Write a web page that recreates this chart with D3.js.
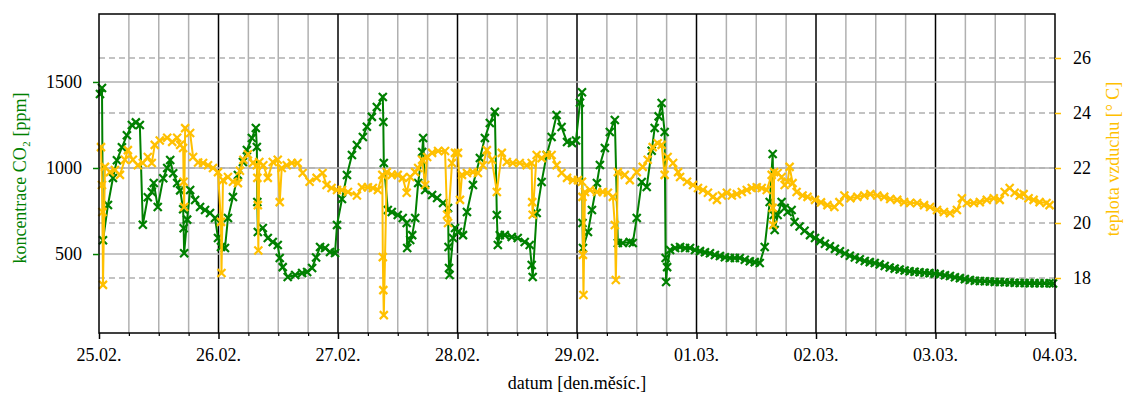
<!DOCTYPE html>
<html>
<head>
<meta charset="utf-8">
<script src="https://cdn.jsdelivr.net/npm/d3@7"></script>
<style>
  html, body { margin: 0; padding: 0; background: #fff; }
  svg { display: block; }
</style>
</head>
<body>
<svg id="chart" width="1128" height="397"></svg>
<script>
// hours since 25.02. 00:00 and measured values
const co2Data = [
  [0.2,1430],[0.6,1465],[0.8,580],[1.8,785],[2.8,942],[3.6,1045],[4.6,1120],[5.6,1190],[6.6,1250],[7.4,1265],
  [8.2,1250],[8.8,670],[9.8,830],[10.6,860],[11.0,913],[11.8,773],[12.9,940],[13.7,1000],[14.3,1047],[14.9,970],
  [15.7,913],[16.3,870],[16.9,760],[17.0,650],[17.1,505],[17.7,700],[18.3,872],[19.3,814],[20.3,773],[21.3,756],
  [22.3,738],[23.3,709],[23.9,593],[24.5,541],[25.3,535],[25.9,709],[26.9,831],[27.9,959],[28.9,1035],[29.7,1105],
  [30.7,1174],[31.5,1233],[31.7,1122],[31.8,802],[31.9,628],[32.9,651],[33.9,593],[34.9,570],[35.9,552],[36.3,477],
  [36.9,424],[37.9,366],[39.4,378],[40.8,390],[41.8,395],[42.8,419],[43.6,480],[44.4,541],[45.4,535],[46.4,512],
  [47.4,506],[47.8,669],[48.8,820],[49.8,959],[50.8,1076],[51.8,1134],[53.0,1180],[53.8,1240],[54.8,1297],[55.8,1355],
  [57.0,1413],[57.1,1267],[57.2,1029],[58.0,756],[58.8,744],[60.0,727],[61.0,709],[61.8,680],[61.9,535],[62.5,581],
  [62.9,610],[63.5,709],[64.1,913],[64.9,1093],[65.1,1174],[65.5,872],[66.9,843],[67.9,826],[69.1,797],[70.1,767],
  [70.2,541],[70.3,419],[70.4,378],[71.1,593],[71.5,651],[72.1,628],[73.1,610],[73.9,744],[75.1,901],[76.5,1058],
  [77.5,1174],[78.5,1262],[79.5,1326],[79.9,727],[80.1,552],[80.5,610],[81.5,610],[82.9,599],[84.1,593],[85.5,570],
  [86.5,552],[86.9,436],[87.1,366],[87.9,738],[88.9,919],[89.9,1076],[90.9,1180],[91.9,1308],[92.9,1238],[94.0,1151],
  [95.0,1145],[95.8,1160],[96.6,1380],[97.0,1440],[97.1,680],[97.2,535],[98.2,628],[99.0,756],[100.0,913],[100.6,1017],
  [101.6,1116],[102.6,1209],[103.6,1279],[104.2,564],[105.2,564],[106.6,570],[107.2,564],[108.0,709],[109.0,919],[110.0,890],
  [111.0,1100],[111.6,1233],[112.4,1300],[113.0,1378],[113.6,1209],[113.8,477],[113.9,337],[114.1,424],[114.7,523],[115.7,535],
  [116.7,541],[117.7,535],[118.7,535],[119.7,523],[120.7,517],[121.7,510],[122.7,504],[123.7,494],[124.7,488],[125.7,481],
  [126.7,477],[127.7,477],[128.7,477],[129.7,467],[130.7,458],[131.7,453],[132.7,448],[133.7,541],[134.7,802],[135.3,1081],
  [135.5,727],[135.7,640],[136.3,727],[137.1,802],[137.7,767],[138.3,744],[139.1,756],[139.7,686],[140.7,660],[141.7,635],
  [142.8,610],[143.8,593],[144.8,575],[145.8,560],[146.8,545],[147.8,530],[148.8,516],[149.8,503],[150.8,490],[151.8,480],
  [152.8,470],[153.8,460],[154.8,453],[155.8,448],[156.8,440],[157.8,430],[158.8,422],[159.8,415],[160.8,410],[161.8,404],
  [162.8,400],[163.8,397],[164.8,394],[165.8,391],[166.8,389],[167.8,386],[168.9,382],[169.9,377],[170.9,372],[171.9,365],
  [172.9,360],[173.9,354],[174.9,349],[175.9,345],[176.9,343],[177.9,342],[178.9,340],[179.9,338],[180.9,337],[181.9,336],
  [182.9,335],[183.9,333],[184.9,332],[185.9,332],[186.9,331],[187.9,331],[188.9,330],[189.9,330],[190.9,330],[191.6,329]
];

const tempData = [
  [0.4,22.76],[0.6,21.38],[0.7,20.4],[0.8,17.75],[1.2,22.04],[2.2,21.85],[3.2,21.93],[4.2,21.75],[5.2,22.3],[5.8,22.65],
  [6.8,22.3],[7.8,22.1],[8.8,22.18],[9.8,22.4],[10.6,22.18],[11.2,22.84],[12.2,23.0],[13.7,23.1],[14.7,22.95],[15.7,23.1],
  [16.3,22.84],[16.9,22.73],[17.0,21.5],[17.1,20.58],[17.3,23.45],[18.3,23.27],[18.9,22.4],[19.9,22.2],[20.9,22.18],[21.9,22.1],
  [22.9,22.0],[23.9,21.85],[24.5,20.04],[24.6,18.18],[24.9,21.56],[25.9,21.67],[26.9,21.5],[27.9,21.45],[28.3,21.9],[29.0,22.3],
  [29.9,22.5],[30.9,22.18],[31.7,22.1],[31.8,21.64],[31.9,20.65],[32.0,19.0],[32.2,22.22],[33.0,22.1],[33.9,21.64],[34.9,22.22],
  [35.9,22.3],[36.3,20.76],[36.7,22.0],[37.7,22.1],[38.7,22.18],[39.9,22.18],[40.9,21.82],[42.3,21.5],[43.7,21.64],[44.9,21.82],
  [45.7,21.38],[46.7,21.27],[47.8,21.2],[48.8,21.2],[50.0,21.13],[51.8,21.0],[52.8,21.3],[54.0,21.3],[55.0,21.27],[56.0,21.2],
  [56.9,21.75],[57.0,18.76],[57.1,17.56],[57.2,16.65],[57.8,21.85],[58.8,21.75],[60.0,21.75],[61.0,21.64],[61.8,21.1],[62.5,21.67],
  [63.5,21.85],[64.1,22.0],[64.9,22.3],[65.5,21.38],[65.9,22.4],[66.9,22.55],[68.1,22.62],[69.5,22.62],[69.9,20.3],[70.1,20.0],
  [70.9,22.18],[71.5,22.55],[72.1,22.55],[72.5,20.84],[72.9,21.75],[73.9,21.82],[75.1,21.85],[76.1,21.82],[77.1,22.1],[77.9,22.65],
  [78.9,22.3],[79.9,21.13],[80.9,22.55],[81.9,22.22],[83.1,22.18],[84.5,22.18],[85.9,22.1],[86.9,22.18],[87.0,20.76],[87.1,20.3],
  [87.9,22.47],[88.9,22.36],[89.9,22.47],[90.9,22.47],[91.9,22.1],[92.9,21.82],[94.0,21.64],[95.2,21.56],[96.2,21.56],[97.0,21.5],
  [97.1,20.95],[97.2,18.84],[97.3,17.38],[97.6,21.13],[98.6,21.2],[100.0,21.13],[101.2,21.13],[102.2,21.1],[103.2,20.95],[103.6,19.93],
  [103.8,17.93],[104.2,21.85],[105.6,21.75],[106.6,21.56],[108.0,21.85],[109.2,22.04],[110.2,22.3],[111.2,22.76],[112.2,22.9],[113.0,22.84],
  [113.6,21.75],[114.2,22.4],[115.3,22.18],[116.3,21.85],[116.7,21.67],[118.1,21.5],[119.3,21.38],[120.3,21.27],[121.3,21.2],[122.3,21.1],
  [123.3,20.95],[124.1,20.84],[125.1,21.0],[126.1,21.1],[127.1,21.0],[128.1,21.05],[129.1,21.13],[130.1,21.2],[131.1,21.27],[132.1,21.3],
  [133.1,21.27],[134.1,21.2],[135.1,21.75],[135.3,20.55],[135.4,19.93],[135.6,21.85],[136.3,21.82],[137.1,21.67],[137.7,21.38],[138.3,21.5],
  [138.7,22.04],[139.3,21.45],[140.1,21.13],[141.3,21.0],[142.3,20.95],[143.8,20.84],[145.0,20.75],[146.3,20.65],[147.7,20.58],[148.7,20.76],
  [149.7,21.0],[150.9,20.9],[152.3,20.95],[153.7,21.0],[154.9,21.05],[156.3,21.0],[157.7,20.95],[158.9,20.87],[160.3,20.84],[161.7,20.76],
  [162.9,20.73],[164.3,20.73],[165.7,20.65],[166.9,20.58],[168.3,20.47],[169.7,20.4],[170.9,20.36],[172.3,20.47],[173.3,20.9],[174.3,20.73],
  [175.7,20.73],[176.9,20.76],[178.3,20.84],[179.7,20.9],[180.9,20.84],[181.9,21.13],[182.9,21.27],[183.9,21.1],[184.9,21.0],[185.7,21.05],
  [186.7,20.9],[187.7,20.84],[188.9,20.76],[190.3,20.73],[190.9,20.65]
];

const dayLabels = ['25.02.', '26.02.', '27.02.', '28.02.', '29.02.', '01.03.', '02.03.', '03.03.', '04.03.'];
const co2Ticks = [500, 1000, 1500];
const tempTicks = [18, 20, 22, 24, 26];

const W = 1128, H = 397;
const margin = { left: 99, right: 73, top: 14, bottom: 64 };
const pw = W - margin.left - margin.right;
const ph = H - margin.top - margin.bottom;

const GREEN = '#008000';
const YELLOW = '#ffc000';
const FONT = '"Liberation Serif"';
const FSIZE = '18px';

const svg = d3.select('#chart');
const g = svg.append('g').attr('transform', `translate(${margin.left},${margin.top})`);

const x = d3.scaleLinear().domain([0, 192]).range([0, pw]);
const yL = d3.scaleLinear().domain([41, 1895]).range([ph, 0]);
const yR = d3.scaleLinear().domain([16, 27.6]).range([ph, 0]);

function label(sel) {
  return sel.style('font-family', FONT).style('font-size', FSIZE);
}

// Grid
const gridG = g.append('g');
for (let h = 6; h < 192; h += 6) {
  const day = h % 24 === 0;
  gridG.append('line')
    .attr('x1', x(h)).attr('x2', x(h)).attr('y1', 0).attr('y2', ph)
    .attr('stroke', day ? '#000' : '#b0b0b0')
    .attr('stroke-width', 1.5);
}
for (const v of co2Ticks) {
  gridG.append('line')
    .attr('x1', 0).attr('x2', pw).attr('y1', yL(v)).attr('y2', yL(v))
    .attr('stroke', '#b0b0b0').attr('stroke-width', 1.5);
}
for (const v of tempTicks) {
  gridG.append('line')
    .attr('x1', 0).attr('x2', pw).attr('y1', yR(v)).attr('y2', yR(v))
    .attr('stroke', '#b0b0b0').attr('stroke-width', 1.5)
    .attr('stroke-dasharray', '6,4');
}

const xMark = 'M-4,-4L4,4M-4,4L4,-4';

function drawSeries(data, yScale, color) {
  const line = d3.line().x(d => x(d[0])).y(d => yScale(d[1]));
  g.append('path').datum(data)
    .attr('d', line)
    .attr('fill', 'none')
    .attr('stroke', color)
    .attr('stroke-width', 2);
  g.append('g').selectAll('path')
    .data(data)
    .join('path')
    .attr('transform', d => `translate(${x(d[0])},${yScale(d[1])})`)
    .attr('d', xMark)
    .attr('stroke', color)
    .attr('stroke-width', 2.2)
    .attr('fill', 'none');
}

drawSeries(co2Data, yL, GREEN);
drawSeries(tempData, yR, YELLOW);

// Frame
g.append('rect')
  .attr('x', 0).attr('y', 0).attr('width', pw).attr('height', ph)
  .attr('fill', 'none').attr('stroke', '#000').attr('stroke-width', 1.5);

// Axes (tick marks from d3.axis, labels drawn as plain text)
const dayHours = d3.range(0, 193, 24);
g.append('g').attr('transform', `translate(0,${ph})`)
  .call(d3.axisBottom(x).tickValues(dayHours).tickFormat('').tickSize(6))
  .call(a => a.select('.domain').remove())
  .selectAll('line').attr('stroke', '#000').attr('stroke-width', 1.5);
g.append('g').attr('transform', `translate(0,${ph})`)
  .call(d3.axisBottom(x).tickValues(d3.range(0, 193, 6).filter(h => h % 24 !== 0))
    .tickFormat('').tickSize(3))
  .call(a => a.select('.domain').remove())
  .selectAll('line').attr('stroke', '#000').attr('stroke-width', 1.2);

g.append('g').call(d3.axisLeft(yL).tickValues(co2Ticks).tickFormat('').tickSize(6))
  .call(a => a.select('.domain').remove())
  .selectAll('line').attr('stroke', GREEN).attr('stroke-width', 1.5);

g.append('g').attr('transform', `translate(${pw},0)`)
  .call(d3.axisRight(yR).tickValues(tempTicks).tickFormat('').tickSize(6))
  .call(a => a.select('.domain').remove())
  .selectAll('line').attr('stroke', YELLOW).attr('stroke-width', 1.5);

g.append('g').selectAll('text').data(dayHours).join('text')
  .attr('x', d => x(d)).attr('y', ph + 28)
  .attr('text-anchor', 'middle').attr('fill', '#000')
  .call(label)
  .text((d, i) => dayLabels[i]);

g.append('g').selectAll('text').data(co2Ticks).join('text')
  .attr('x', -17).attr('y', d => yL(d)).attr('dy', '0.33em')
  .attr('text-anchor', 'end').attr('fill', '#000')
  .call(label)
  .text(d => d3.format('d')(d));

g.append('g').selectAll('text').data(tempTicks).join('text')
  .attr('x', pw + 18).attr('y', d => yR(d)).attr('dy', '0.33em')
  .attr('text-anchor', 'start').attr('fill', '#000')
  .call(label)
  .text(d => d);

// Axis titles
svg.append('text')
  .attr('transform', `translate(26,178) rotate(-90)`)
  .attr('text-anchor', 'middle')
  .attr('fill', GREEN)
  .call(label)
  .text('koncentrace CO₂ [ppm]');

svg.append('text')
  .attr('transform', `translate(1119,159) rotate(-90)`)
  .attr('text-anchor', 'middle')
  .attr('fill', YELLOW)
  .call(label)
  .text('teplota vzduchu [° C]');

svg.append('text')
  .attr('x', margin.left + pw / 2)
  .attr('y', 389)
  .attr('text-anchor', 'middle')
  .attr('fill', '#000')
  .call(label)
  .text('datum [den.měsíc.]');
</script>
</body>
</html>
